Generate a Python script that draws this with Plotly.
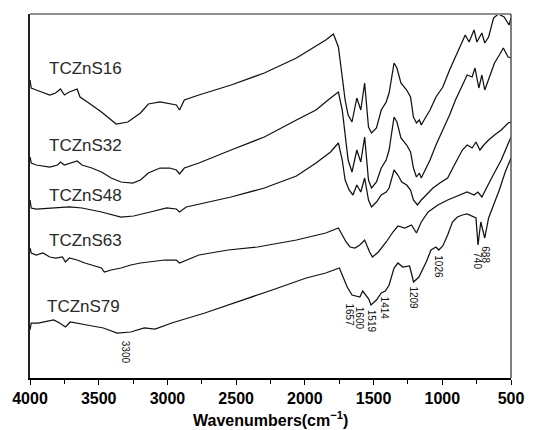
import plotly.graph_objects as go

# FTIR spectra, transmittance in arbitrary units (offset stacked)
wn_16 = [4000, 3991, 3955, 3856, 3814, 3778, 3750, 3714, 3657, 3636, 3572, 3480, 3373, 3288, 3196, 3139,
         3054, 2983, 2935, 2912, 2877, 2771, 2537, 2295, 2061, 1919, 1848, 1792, 1756, 1728, 1707, 1685, 1657,
         1622, 1593, 1565, 1537, 1515, 1479, 1444, 1408, 1387, 1351, 1330, 1301, 1259, 1231, 1210, 1188,
         1167, 1153, 1124, 1089, 1046, 996, 947, 904, 854, 833, 805, 769, 748, 712, 691, 663, 627, 592,
         550, 514, 500]
t_16 = [298, 290, 288, 283, 285, 289, 283, 286, 289, 281, 275, 266, 254, 256, 265, 274,
        276, 274, 273, 268, 278, 283, 293, 305, 320, 332, 338, 344, 331, 301, 278, 263, 256,
        280, 268, 295, 251, 245, 250, 268, 276, 285, 315, 310, 295, 288, 281, 261, 255,
        258, 253, 260, 268, 281, 291, 308, 321, 335, 343, 336, 348, 336, 345, 335, 341, 360, 364,
        361, 353, 360]

wn_32 = [4000, 3991, 3955, 3856, 3799, 3778, 3750, 3693, 3657, 3622, 3551, 3480, 3409, 3338, 3253, 3196,
         3139, 3054, 2983, 2935, 2912, 2877, 2771, 2537, 2295, 2061, 1919, 1813, 1756, 1728, 1707, 1685, 1657,
         1622, 1593, 1565, 1537, 1515, 1479, 1444, 1408, 1387, 1351, 1330, 1301, 1259, 1231, 1210, 1188,
         1167, 1153, 1124, 1089, 1046, 996, 947, 904, 854, 819, 783, 762, 734, 712, 691, 656, 620, 585,
         556, 521, 500]
t_32 = [221, 215, 213, 211, 213, 216, 213, 215, 217, 213, 210, 206, 200, 196, 195, 198,
        205, 210, 210, 208, 204, 210, 215, 228, 241, 258, 268, 280, 286, 268, 243, 218, 206,
        228, 216, 241, 198, 190, 196, 210, 218, 228, 261, 256, 240, 233, 226, 210, 201,
        205, 200, 208, 218, 233, 248, 263, 278, 293, 303, 301, 310, 290, 303, 288, 301, 315, 323,
        330, 321, 320]

wn_48 = [4000, 3991, 3955, 3835, 3714, 3622, 3480, 3338, 3246, 3125, 3005, 2935, 2912, 2863, 2537, 2295, 2061,
         1919, 1813, 1756, 1728, 1707, 1678, 1650, 1622, 1593, 1565, 1537, 1515, 1479, 1444, 1408, 1387,
         1351, 1323, 1295, 1259, 1231, 1210, 1181, 1153, 1117, 1068, 1018, 961, 912, 854, 819, 783, 755,
         726, 698, 663, 620, 571, 521, 500]
t_48 = [178, 170, 169, 170, 171, 170, 166, 161, 162, 166, 170, 169, 166, 171, 181, 190, 202,
        215, 226, 235, 218, 198, 188, 183, 193, 186, 200, 178, 171, 176, 183, 186, 190,
        208, 203, 196, 193, 188, 178, 173, 178, 183, 190, 195, 200, 213, 228, 233, 230, 236,
        228, 233, 238, 243, 248, 255, 256]

wn_63 = [4000, 3991, 3955, 3906, 3856, 3813, 3764, 3742, 3714, 3657, 3601, 3551, 3480, 3459, 3409, 3338,
         3267, 3196, 3125, 3019, 2935, 2912, 2771, 2558, 2345, 2061, 1848, 1756, 1728, 1700, 1671, 1636, 1600,
         1565, 1529, 1508, 1465, 1408, 1359, 1323, 1273, 1224, 1188, 1153, 1103, 1032, 961, 890, 819,
         769, 741, 712, 684, 641, 571, 500]
t_63 = [130, 125, 123, 125, 121, 120, 121, 116, 120, 118, 115, 113, 110, 106, 108, 110,
        113, 115, 116, 118, 118, 115, 123, 128, 131, 138, 145, 150, 143, 136, 131, 130, 133,
        138, 126, 121, 126, 136, 146, 152, 150, 153, 145, 156, 166, 173, 178, 182, 186,
        183, 186, 181, 188, 200, 218, 241]

wn_79 = [4000, 3991, 3941, 3870, 3828, 3785, 3742, 3707, 3657, 3586, 3466, 3366, 3267, 3168, 3090, 3047,
         2969, 2728, 2487, 2238, 1990, 1848, 1749, 1728, 1692, 1657, 1600, 1579, 1550, 1535, 1519, 1479,
         1444, 1414, 1387, 1351, 1323, 1288, 1238, 1225, 1209, 1170, 1117, 1082, 1046, 1026, 996, 961,
         926, 890, 854, 819, 783, 755, 740, 720, 691, 663, 627, 585, 542, 500]
t_79 = [48, 55, 55, 57, 58, 55, 51, 56, 55, 53, 50, 45, 46, 50, 49, 51,
        55, 65, 76, 88, 100, 105, 110, 103, 91, 83, 81, 87, 81, 79, 73, 78,
        85, 87, 93, 110, 115, 111, 112, 105, 96, 101, 116, 128, 131, 128, 132, 143,
        156, 161, 163, 164, 162, 160, 133, 156, 140, 160, 173, 188, 206, 220]

series = [("TCZnS16", wn_16, t_16), ("TCZnS32", wn_32, t_32), ("TCZnS48", wn_48, t_48),
          ("TCZnS63", wn_63, t_63), ("TCZnS79", wn_79, t_79)]

# sample label positions (wavenumber, level)
sample_label_x = [3875, 3875, 3875, 3875, 3890]
sample_label_y = [310, 233, 183, 138, 72]

# peak assignment labels
peak_text = ["3300", "1657", "1600", "1519", "1414", "1209", "1026", "740", "688"]
peak_x = [3300, 1675, 1597, 1510, 1414, 1209, 1026, 742, 684]
peak_y = [26, 63, 60, 57, 70, 80, 111, 117, 123]

fig = go.Figure()
for name, wn, t in series:
    fig.add_trace(go.Scatter(x=wn, y=t, mode="lines", name=name,
                             line=dict(color="#111111", width=1.25)))

for (name, _, _), lx, ly in zip(series, sample_label_x, sample_label_y):
    fig.add_annotation(x=lx, y=ly, text=name, showarrow=False, xanchor="left", yanchor="middle",
                       font=dict(size=17, color="#2a2a2a", family="Liberation Sans, Arial"))

for txt, px, py in zip(peak_text, peak_x, peak_y):
    fig.add_annotation(x=px, y=py, text=txt, showarrow=False, textangle=90,
                       xanchor="center", yanchor="middle",
                       font=dict(size=10, color="#111111", family="Liberation Sans, Arial"))

fig.add_annotation(x=0.5, y=-0.112, xref="paper", yref="paper", showarrow=False,
                   text="Wavenumbers(cm<sup>−1</sup>)", xanchor="center", yanchor="middle",
                   font=dict(size=16, weight="bold", color="black", family="Liberation Sans, Arial"))

fig.add_shape(type="line", xref="paper", yref="paper", x0=0, x1=1, y0=1, y1=1,
              line=dict(color="#8f8f8f", width=2.2))
fig.add_shape(type="line", xref="paper", yref="paper", x0=1, x1=1, y0=0, y1=1,
              line=dict(color="#555555", width=1.5))

fig.update_layout(
    width=536, height=430,
    margin=dict(l=27, r=16, t=14, b=52),
    plot_bgcolor="white", paper_bgcolor="white",
    showlegend=False,
    font=dict(family="Liberation Sans, Arial", color="black"),
    xaxis=dict(range=[4000, 500], showline=True, linecolor="black", linewidth=1.5,
               ticks="outside", ticklen=5, tickwidth=1.3, tickcolor="black",
               tick0=500, dtick=500, showgrid=False, zeroline=False,
               ticklabelstandoff=0,
               tickfont=dict(size=16, weight="bold", color="black"),
               minor=dict(ticks="outside", ticklen=4, dtick=250, tickcolor="black", tickwidth=1.2)),
    yaxis=dict(range=[0, 364], showline=True, linecolor="#222222", linewidth=1.8,
               showticklabels=False, ticks="", showgrid=False, zeroline=False),
)

fig.write_html("out.html")
